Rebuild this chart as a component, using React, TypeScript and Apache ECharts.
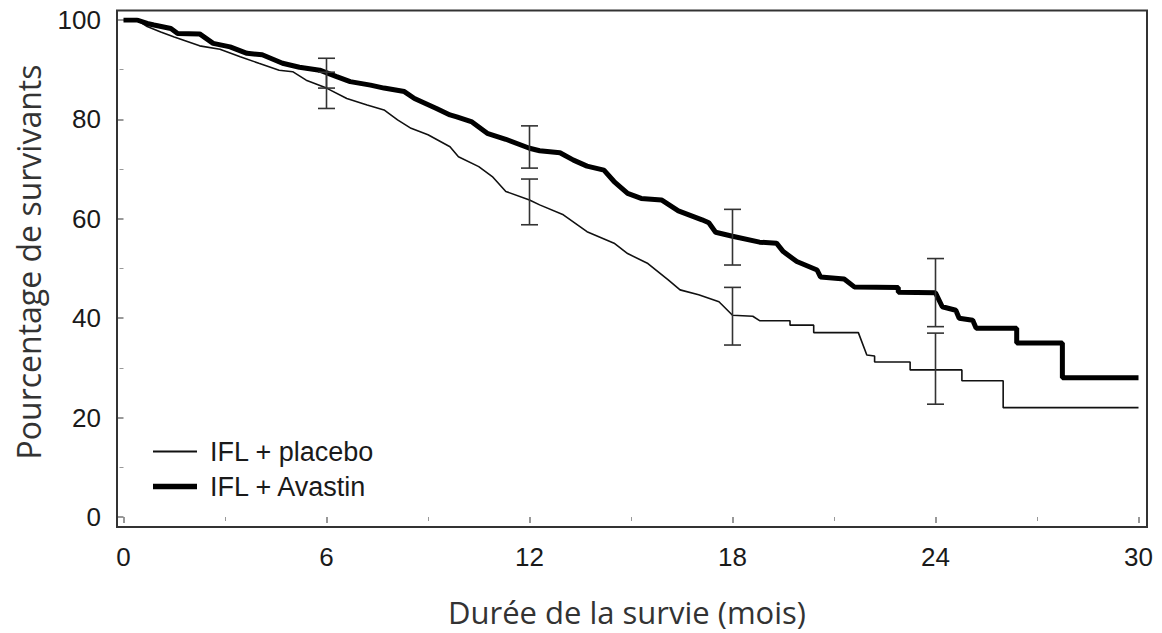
import React, { useEffect, useRef } from "react";
import * as echarts from "echarts";

const xTicks = [0, 6, 12, 18, 24, 30];
const yTicks = [0, 20, 40, 60, 80, 100];

const seriesNames = ["IFL + placebo", "IFL + Avastin"];

// Kaplan-Meier curve vertices [months, % survivors]
const placebo: [number, number][] = [
  [0, 100], [0.4, 100], [0.7, 98.7], [1.1, 97.6], [1.5, 96.6], [2.25, 94.8], [2.85, 94.1],
  [3.45, 92.6], [4.0, 91.3], [4.6, 89.9], [5.0, 89.6], [5.4, 87.9], [6.0, 86.3], [6.6, 84.2],
  [7.2, 82.9], [7.7, 81.9], [8.1, 79.9], [8.5, 78.2], [9.0, 76.9], [9.65, 74.5], [9.9, 72.5],
  [10.5, 70.5], [10.9, 68.5], [11.3, 65.5], [12.0, 63.8], [12.3, 62.8], [13.0, 60.8],
  [13.7, 57.4], [14.5, 55.1], [14.9, 53.0], [15.5, 51.0], [16.1, 47.7], [16.45, 45.7],
  [17.0, 44.7], [17.6, 43.3], [18.0, 40.6], [18.6, 40.4], [18.8, 39.5], [19.7, 39.5],
  [19.7, 38.6], [20.4, 38.6], [20.4, 37.1], [21.72, 37.1], [21.97, 32.6], [22.2, 32.4],
  [22.2, 31.2], [23.25, 31.2], [23.25, 29.6], [24.78, 29.6], [24.78, 27.4], [26.0, 27.4],
  [26.0, 22.0], [30.0, 22.0],
];

const avastin: [number, number][] = [
  [0, 100], [0.4, 100], [0.7, 99.3], [0.9, 99.0], [1.4, 98.3], [1.6, 97.3], [2.25, 97.2],
  [2.65, 95.3], [3.15, 94.6], [3.65, 93.3], [4.1, 93.0], [4.7, 91.3], [5.2, 90.5], [5.8, 89.9],
  [6.3, 88.6], [6.7, 87.6], [7.3, 86.9], [7.7, 86.3], [8.3, 85.6], [8.6, 84.2], [9.25, 82.2],
  [9.65, 80.9], [9.85, 80.5], [10.3, 79.5], [10.75, 77.2], [11.3, 76.0], [12.0, 74.2],
  [12.3, 73.7], [12.9, 73.3], [13.3, 71.8], [13.7, 70.6], [14.2, 69.8], [14.5, 67.5],
  [14.9, 65.1], [15.3, 64.1], [15.9, 63.8], [16.4, 61.6], [17.1, 59.8], [17.3, 59.2],
  [17.5, 57.3], [18.0, 56.5], [18.8, 55.3], [19.3, 55.1], [19.5, 53.4], [19.9, 51.4],
  [20.5, 49.7], [20.6, 48.3], [21.3, 47.9], [21.6, 46.3], [22.9, 46.2], [22.9, 45.2],
  [24.0, 45.1], [24.2, 42.3], [24.6, 41.6], [24.7, 40.0], [25.1, 39.6], [25.2, 38.0],
  [26.4, 38.0], [26.4, 35.0], [27.75, 35.0], [27.75, 28.0], [30.0, 28.0],
];

// Confidence intervals [month, low, high]
const placeboCI: [number, number, number][] = [
  [6, 82.2, 89.5], [12, 58.8, 68.0], [18, 34.6, 46.2], [24, 22.7, 37.0],
];
const avastinCI: [number, number, number][] = [
  [6, 86.3, 92.3], [12, 70.2, 78.7], [18, 50.7, 61.9], [24, 38.3, 52.0],
];

const xTitle = "Durée de la survie (mois)";
const yTitle = "Pourcentage de survivants";

const errorBarRender = (params: any, api: any) => {
  const t = api.value(0);
  const lo = api.coord([t, api.value(1)]);
  const hi = api.coord([t, api.value(2)]);
  const w = 8.5;
  const style = { stroke: "#333", lineWidth: 1.6 };
  return {
    type: "group",
    children: [
      { type: "line", shape: { x1: lo[0], y1: lo[1], x2: hi[0], y2: hi[1] }, style },
      { type: "line", shape: { x1: lo[0] - w, y1: lo[1], x2: lo[0] + w, y2: lo[1] }, style },
      { type: "line", shape: { x1: hi[0] - w, y1: hi[1], x2: hi[0] + w, y2: hi[1] }, style },
    ],
  };
};

export default function App() {
  const ref = useRef<HTMLDivElement>(null);
  useEffect(() => {
    if (!ref.current) return;
    const chart = echarts.init(ref.current, null, { renderer: "svg" });
    const tickFont = { fontFamily: "Liberation Sans, Arial, sans-serif", fontSize: 26, color: "#1a1a1a" };
    chart.setOption({
      animation: false,
      backgroundColor: "#fff",
      grid: { left: 123.5, right: 23.5, top: 20, bottom: 116 },
      xAxis: {
        type: "value",
        min: xTicks[0],
        max: xTicks[xTicks.length - 1],
        interval: 6,
        offset: 10,
        axisLine: { show: false },
        axisTick: { show: true, length: 6, lineStyle: { color: "#777", width: 1.5 } },
        minorTick: { show: true, splitNumber: 2, length: 4, lineStyle: { color: "#999", width: 1 } },
        splitLine: { show: false },
        axisLabel: { ...tickFont, margin: 17, formatter: (v: number) => String(v) },
      },
      yAxis: {
        type: "value",
        min: yTicks[0],
        max: yTicks[yTicks.length - 1],
        interval: 20,
        offset: 6.5,
        axisLine: { show: false },
        axisTick: { show: true, length: 6, lineStyle: { color: "#777", width: 1.5 } },
        minorTick: { show: true, splitNumber: 2, length: 4, lineStyle: { color: "#999", width: 1 } },
        splitLine: { show: false },
        axisLabel: { ...tickFont, margin: 16 },
      },
      legend: {
        orient: "vertical",
        left: 153,
        top: 438,
        padding: 0,
        itemWidth: 44,
        itemHeight: 14,
        itemGap: 8,
        data: [
          { name: seriesNames[0], icon: "path://M0,0H44V1.8H0Z", itemStyle: { color: "#111" } },
          { name: seriesNames[1], icon: "path://M0,0H44V5.5H0Z", itemStyle: { color: "#000" } },
        ],
        textStyle: {
          fontFamily: "Liberation Sans, Arial, sans-serif",
          fontSize: 27,
          color: "#1a1a1a",
          padding: [0, 0, 0, 8],
          lineHeight: 26,
        },
      },
      graphic: [
        {
          type: "rect",
          shape: { x: 117, y: 10.5, width: 1030, height: 516.5 },
          style: { fill: "none", stroke: "#333", lineWidth: 2 },
          silent: true,
          z: 1,
        },
        {
          type: "text",
          x: 627,
          y: 612,
          style: {
            text: xTitle,
            font: "31px 'Open Sans', sans-serif",
            fill: "#333",
            align: "center",
            verticalAlign: "middle",
          },
        },
        {
          type: "text",
          x: 28,
          y: 262,
          rotation: Math.PI / 2,
          style: {
            text: yTitle,
            font: "32px 'Open Sans', sans-serif",
            fill: "#333",
            align: "center",
            verticalAlign: "middle",
          },
        },
      ],
      series: [
        {
          name: seriesNames[0],
          type: "line",
          data: placebo,
          symbol: "none",
          lineStyle: { color: "#111", width: 1.6 },
          itemStyle: { color: "#111" },
          z: 3,
        },
        {
          name: seriesNames[1],
          type: "line",
          data: avastin,
          symbol: "none",
          lineStyle: { color: "#000", width: 5 },
          itemStyle: { color: "#000" },
          z: 4,
        },
        {
          name: "CI placebo",
          type: "custom",
          renderItem: errorBarRender,
          data: placeboCI,
          encode: { x: 0, y: [1, 2] },
          z: 5,
        },
        {
          name: "CI avastin",
          type: "custom",
          renderItem: errorBarRender,
          data: avastinCI,
          encode: { x: 0, y: [1, 2] },
          z: 5,
        },
      ],
    });
    return () => chart.dispose();
  }, []);
  return (
    <div
      ref={ref}
      style={{ position: "fixed", left: 0, top: 0, width: 1162, height: 633, background: "#fff" }}
    />
  );
}
